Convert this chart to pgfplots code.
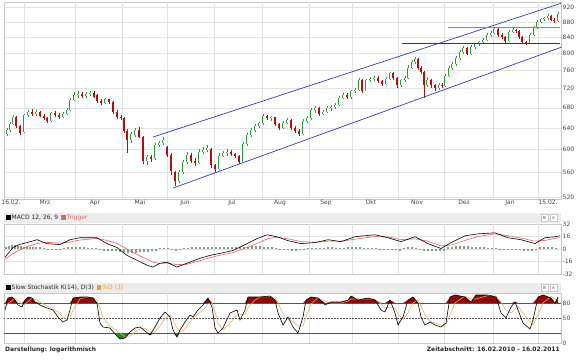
\documentclass[border=0pt]{standalone}
\usepackage{fontspec}
\setmainfont{DejaVu Sans}
\usepackage{pgfplots}
\pgfplotsset{compat=1.18}
\usepackage{pgfplotstable}

\definecolor{gridc}{HTML}{E2E2E2}
\definecolor{framec}{HTML}{C8C8C8}
\definecolor{tickc}{HTML}{444444}
\definecolor{upc}{HTML}{2F9A3A}
\definecolor{dnc}{HTML}{B01010}
\definecolor{chanc}{HTML}{3A3AA8}
\definecolor{hthick}{HTML}{2A2A9C}
\definecolor{hthin}{HTML}{8282C8}
\definecolor{trigc}{HTML}{E06464}
\definecolor{histc}{HTML}{7F9F7F}
\definecolor{stred}{HTML}{8B0A0A}
\definecolor{stgreen}{HTML}{1F8A1F}
\definecolor{dcol}{HTML}{E2B06A}
\definecolor{levelc}{HTML}{555555}
\definecolor{hdrc}{HTML}{ECECEC}
\definecolor{orangec}{HTML}{F0A020}

\pgfplotstableread{
x o h l c
7 628 640 624 636
10 636 652 633 648
13 648 665 645 661
16 661 663 640 643
20 643 645 626 630
24 632 668 630 665
28 665 676 662 671
32 671 678 664 668
36 668 676 664 672
40 672 674 661 664
44 664 667 656 660
47 660 662 650 654
51 654 672 652 669
55 669 673 662 665
59 665 670 658 662
63 662 672 659 668
67 668 680 665 676
70 676 700 674 696
74 696 712 693 706
78 706 714 700 709
82 709 712 700 704
86 704 712 701 708
90 708 716 704 711
94 711 714 700 703
97 706 708 690 694
101 694 698 686 690
105 690 700 688 697
109 697 699 688 692
113 692 694 668 672
117 672 675 658 661
121 661 665 656 659
124 660 662 630 634
127 634 638 593 618
131 618 632 612 628
135 626 640 622 636
139 636 642 620 623
143 622 624 574 580
147 580 590 572 586
151 586 590 578 583
155 584 612 582 608
159 608 616 604 612
163 612 622 608 617
167 604 606 586 590
171 590 594 556 563
175 560 562 538 546
179 546 564 542 560
183 560 582 557 578
187 578 595 575 590
191 590 593 576 580
195 580 584 570 576
199 576 600 574 595
203 595 604 592 599
207 599 608 595 603
211 600 602 568 572
215 572 575 560 566
219 566 593 564 589
223 589 597 586 593
227 593 600 588 596
231 596 599 588 591
235 591 594 584 588
239 588 590 574 578
243 578 614 576 610
247 610 630 607 626
251 626 640 622 636
255 636 648 633 644
259 644 652 640 649
263 649 668 646 663
267 663 666 655 659
271 659 664 654 661
275 661 662 644 647
279 647 650 636 640
283 640 654 637 650
287 650 660 647 655
291 655 657 636 640
295 640 643 630 635
299 635 637 624 629
303 629 658 627 654
307 654 663 650 659
311 659 680 656 675
315 675 684 670 679
319 679 681 664 668
323 668 676 665 672
327 672 683 669 679
331 679 685 674 681
335 681 690 677 686
339 686 705 683 701
343 701 710 697 706
347 706 711 698 702
351 702 718 699 714
355 714 722 710 717
359 717 744 714 739
362 739 742 710 716
366 716 742 714 738
370 738 746 734 742
374 742 748 736 744
378 744 747 733 737
382 737 739 726 730
386 730 745 728 741
390 741 758 738 754
393 754 756 740 744
397 744 746 722 727
401 727 742 724 738
405 738 748 734 744
408 744 772 742 767
412 767 784 764 779
415 779 792 776 787
418 787 789 762 767
421 767 770 752 757
424 757 760 700 728
427 728 745 724 740
431 740 742 722 727
435 727 730 716 721
439 721 732 718 728
442 728 733 722 726
445 726 752 724 748
449 748 770 745 766
452 766 780 762 775
456 775 794 771 789
460 789 808 785 804
463 804 818 800 814
467 814 816 796 800
471 800 820 797 816
475 816 827 812 823
479 823 832 819 828
483 828 838 824 833
487 833 850 830 846
491 846 856 842 851
494 851 867 848 862
498 862 864 842 847
502 847 850 836 840
505 840 843 826 831
509 831 858 828 853
513 853 864 850 859
516 859 862 851 855
519 855 858 836 840
522 840 843 823 828
526 828 832 822 826
530 826 850 824 846
534 846 868 843 864
537 864 884 861 880
541 880 891 876 887
544 887 894 883 890
548 890 900 886 896
551 896 899 882 886
554 886 890 878 883
558 883 906 880 901
}\candles

\pgfplotstableread{
x k d
5 66 70
8 90 78
12 92 85
15 86 89
18 76 85
22 72 78
25 86 77
28 92 83
32 90 89
35 82 88
40 76 82
47 70 74
53 66 68
58 52 62
63 42 52
67 46 46
70 66 52
73 90 66
80 92 88
87 92 92
93 90 91
97 80 87
100 40 70
103 32 50
110 30 34
115 18 27
120 8 20
125 10 13
130 22 14
135 30 22
140 32 28
145 24 29
150 16 22
155 32 22
160 50 34
165 62 50
170 52 56
173 26 46
177 12 30
180 26 22
185 42 28
190 56 42
193 52 50
198 66 58
203 76 66
208 90 78
212 72 80
215 30 62
218 20 40
223 30 26
230 60 40
237 66 56
240 46 56
245 66 58
248 92 70
255 92 86
260 92 92
270 94 93
275 86 91
278 60 80
283 36 58
288 52 48
293 32 42
298 20 34
303 52 34
306 86 52
311 92 78
318 90 90
325 76 84
331 82 80
341 82 80
348 86 84
351 94 88
358 86 88
368 90 88
375 86 88
381 66 78
385 62 70
390 86 72
395 60 70
398 36 58
403 52 48
408 86 60
413 92 80
418 80 86
421 52 74
425 36 56
430 42 44
435 36 40
441 32 36
446 40 36
450 92 56
455 96 80
465 92 94
471 82 88
476 96 88
488 96 95
496 92 94
501 60 82
506 50 66
511 72 60
515 82 68
518 66 74
523 40 60
530 28 42
533 46 36
538 92 56
543 96 80
551 90 93
555 80 88
558 92 86
}\stoch

\pgfplotstableread{
x m t
5 -10.7 -13
13 1.9 -6
20 6 -1
27 8.2 3
37 11.9 7
47 6.9 8.5
60 5.6 7.5
70 11.9 9
80 14.4 11.5
97 14.4 13.5
107 6.9 11
117 1.9 7
127 -8.2 0
137 -14.4 -7
147 -20.7 -13
153 -23.2 -17
160 -18.2 -18.5
167 -16.9 -18
177 -23.2 -20
187 -18.2 -19.5
200 -11.9 -15
210 -8.2 -11
220 -5.6 -8
233 -1.9 -4.5
243 4.4 0
257 13.2 7
267 18.2 13
277 15.7 15
288 10.7 13
301 6.9 9.5
315 8.2 8.5
328 11.9 10
341 9.4 10
355 15.7 12.5
375 18.2 16
388 14.4 15.5
401 9.4 12
415 15.7 13
428 6.9 10
441 0.6 4
451 8.2 5
465 16.9 11
478 19.4 16
495 20.7 19.5
508 14.4 17
521 11.9 14
535 6.9 10
545 14.4 11
555 15.7 13.5
560 16.9 14.5
}\macd

\pgfplotstableread{
x v
6 3
9 4
12 5
15 5
18 4
21 4
24 3
27 3
30 3
33 3
36 2
40 2
44 1
48 -1
52 -1
56 -1
60 -1
64 1
68 2
72 2
76 2
80 2
84 2
88 1
92 1
96 1
100 -1
104 -2
108 -2
112 -3
116 -3
120 -4
124 -4
128 -5
132 -5
136 -5
140 -4
144 -4
148 -4
152 -3
156 -2
160 1
164 1
168 1
172 -1
176 -2
180 -1
184 1
188 1
192 2
196 2
200 2
204 2
208 2
212 2
216 2
220 2
224 2
228 2
232 2
236 2
240 3
244 3
248 3
252 4
256 4
260 4
264 3
268 3
272 2
276 1
280 -1
284 -1
288 -1
292 -2
296 -2
300 -1
304 -1
308 1
312 1
316 1
320 1
324 1
328 2
332 2
336 1
340 1
344 1
348 2
352 2
356 2
360 2
364 1
368 1
372 1
376 1
380 -1
384 -1
388 -1
392 -1
396 -1
400 -2
404 1
408 2
412 2
416 1
420 -1
424 -3
428 -3
432 -3
436 -3
440 -3
444 -2
448 2
452 3
456 4
460 4
464 4
468 4
472 3
476 3
480 2
484 2
488 1
492 1
496 1
500 -1
504 -1
508 -1
512 -1
516 -1
520 -1
524 -2
528 -2
532 -2
536 -1
540 2
544 2
548 2
552 2
556 1
}\hist

\pgfplotsset{
  panel/.style={
    scale only axis, width=557pt, xmin=4, xmax=561,
    axis line style={draw=framec, line width=0.5pt},
    major tick length=0pt, minor tick length=0pt,
    major grid style={draw=gridc, line width=0.4pt},
    yticklabel pos=right,
    yticklabel style={font=\fontsize{6}{7}\selectfont, text=tickc, inner sep=1.5pt},
    extra x ticks={24,75,122,167,214,262,309,352,398,444,493,538},
    extra x tick labels={},
    extra x tick style={grid=major},
  },
  candle/.style={mark=none, draw=none, forget plot,
    error bars/y dir=plus, error bars/y explicit, error bars/error mark=none},
}

\begin{document}
\begin{tikzpicture}
\path[use as bounding box] (0pt,0pt) rectangle (578pt,359pt);

% ---------------- main price panel
\begin{axis}[panel, at={(4pt,160pt)}, anchor=south west, height=197pt,
  ymode=log, ymin=517, ymax=934,
  ytick={520,560,600,640,680,720,760,800,840,880,920},
  yticklabels={520,560,600,640,680,720,760,800,840,880,920},
  ymajorgrids,
  xtick={11,45,95,140,185,232,280,326,371,417,464,510,548},
  xticklabels={16.02.,Mrz,Apr,Mai,Jun,Jul,Aug,Sep,Okt,Nov,Dez,Jan,15.02.},
  xticklabel style={font=\fontsize{6}{7}\selectfont, text=tickc, inner sep=1pt},
]
% up candles (hollow green)
\addplot[candle, restrict expr to domain={\thisrow{c}-\thisrow{o}}{0:1000},
  error bars/error bar style={draw=upc, line width=0.6pt}]
  table[x=x, y=l, y error plus expr={\thisrow{h}-\thisrow{l}}] {\candles};
\addplot[candle, restrict expr to domain={\thisrow{c}-\thisrow{o}}{0:1000},
  error bars/error bar style={draw=upc, line width=2.3pt}]
  table[x=x, y=o, y error plus expr={\thisrow{c}-\thisrow{o}}] {\candles};
\addplot[candle, restrict expr to domain={\thisrow{c}-\thisrow{o}}{0:1000},
  error bars/error bar style={draw=white, line width=0.8pt}]
  table[x=x, y=o, y error plus expr={\thisrow{c}-\thisrow{o}}] {\candles};
% down candles (filled red)
\addplot[candle, restrict expr to domain={\thisrow{c}-\thisrow{o}}{-1000:-0.01},
  error bars/error bar style={draw=dnc, line width=0.6pt}]
  table[x=x, y=l, y error plus expr={\thisrow{h}-\thisrow{l}}] {\candles};
\addplot[candle, restrict expr to domain={\thisrow{c}-\thisrow{o}}{-1000:-0.01},
  error bars/error bar style={draw=dnc, line width=2.3pt}]
  table[x=x, y=c, y error plus expr={\thisrow{o}-\thisrow{c}}] {\candles};
% trend channel
\addplot[chanc, line width=0.7pt] coordinates {(153,622.7) (561,930.3)};
\addplot[chanc, line width=0.7pt] coordinates {(173,534.2) (561,815.2)};
% horizontal lines
\addplot[hthick, line width=0.9pt] coordinates {(402,824.5) (560,824.5)};
\addplot[hthin, line width=0.6pt] coordinates {(448,866.4) (560,866.4)};
\end{axis}

% ---------------- MACD header
\fill[hdrc] (4pt,135.5pt) rectangle (561pt,146pt);
\node[anchor=west, font=\fontsize{6}{7}\selectfont, inner sep=0pt] at (6pt,140.8pt)
  {\textcolor{black}{\rule{4.5pt}{4.5pt}}\,\textcolor{black!85}{MACD 12, 26, 9}\enspace\textcolor{trigc}{\rule{4.5pt}{4.5pt}}\,\textcolor{trigc}{Trigger}};
\draw[framec, fill=white] (541pt,137.5pt) rectangle (548pt,144.5pt);
\draw[framec, fill=white] (550pt,137.5pt) rectangle (557pt,144.5pt);
\node[font=\fontsize{4.5}{5}\selectfont, text=tickc, inner sep=0pt] at (544.5pt,141pt) {≡};
\node[font=\fontsize{4.5}{5}\selectfont, text=tickc, inner sep=0pt] at (553.5pt,141pt) {×};

% ---------------- MACD panel
\begin{axis}[panel, at={(4pt,85pt)}, anchor=south west, height=50pt,
  ymin=-32, ymax=32, ytick={-32,-16,0,16,32}, yticklabels={-32,-16,0,16,32},
  ymajorgrids, xtick=\empty]
\addplot[ycomb, histc, line width=1.1pt, mark=none] table[x=x, y=v] {\hist};
\addplot[trigc, line width=0.6pt] table[x=x, y=t] {\macd};
\addplot[black, line width=0.6pt] table[x=x, y=m] {\macd};
\end{axis}

% ---------------- Stochastic header
\fill[hdrc] (4pt,66pt) rectangle (561pt,76pt);
\node[anchor=west, font=\fontsize{6}{7}\selectfont, inner sep=0pt] at (6pt,71pt)
  {\textcolor{black}{\rule{4.5pt}{4.5pt}}\,\textcolor{black!85}{Slow Stochastik K(14), D(3)}\enspace\textcolor{orangec}{\rule{4.5pt}{4.5pt}}\,\textcolor{orangec}{\%D (3)}};
\draw[framec, fill=white] (541pt,67.5pt) rectangle (548pt,74.5pt);
\draw[framec, fill=white] (550pt,67.5pt) rectangle (557pt,74.5pt);
\node[font=\fontsize{4.5}{5}\selectfont, text=tickc, inner sep=0pt] at (544.5pt,71pt) {≡};
\node[font=\fontsize{4.5}{5}\selectfont, text=tickc, inner sep=0pt] at (553.5pt,71pt) {×};

% ---------------- Stochastic panel
\begin{axis}[panel, at={(4pt,16pt)}, anchor=south west, height=50pt,
  ymin=0, ymax=100, ytick={0,50,80}, yticklabels={0,50,80}, xtick=\empty]
% stacked areas: green below 20, red above 80
\addplot[draw=none, stack plots=y, forget plot] table[x=x, y expr={min(\thisrow{k},20)}] {\stoch};
\addplot[fill=stgreen, draw=none, stack plots=y, forget plot] table[x=x, y expr={20-min(\thisrow{k},20)}] {\stoch} \closedcycle;
\addplot[draw=none, stack plots=y, forget plot] table[x=x, y expr=60] {\stoch};
\addplot[fill=stred, draw=none, stack plots=y, forget plot] table[x=x, y expr={max(\thisrow{k},80)-80}] {\stoch} \closedcycle;
\addplot[levelc, line width=0.6pt] coordinates {(4,80) (561,80)};
\addplot[levelc, line width=0.6pt] coordinates {(4,20) (561,20)};
\addplot[levelc, line width=0.5pt, dash pattern=on 1.5pt off 1.5pt] coordinates {(4,50) (561,50)};
\addplot[dcol, line width=0.6pt] table[x=x, y=d] {\stoch};
\addplot[black, line width=0.6pt] table[x=x, y=k] {\stoch};
\end{axis}

% ---------------- footer
\node[anchor=west, font=\bfseries\fontsize{6}{7}\selectfont, text=black!85, inner sep=0pt] at (5pt,9pt) {Darstellung: logarithmisch};
\node[anchor=east, font=\bfseries\fontsize{6}{7}\selectfont, text=black!85, inner sep=0pt] at (560pt,10pt) {Zeitabschnitt: 16.02.2010 - 16.02.2011};
\end{tikzpicture}
\end{document}
